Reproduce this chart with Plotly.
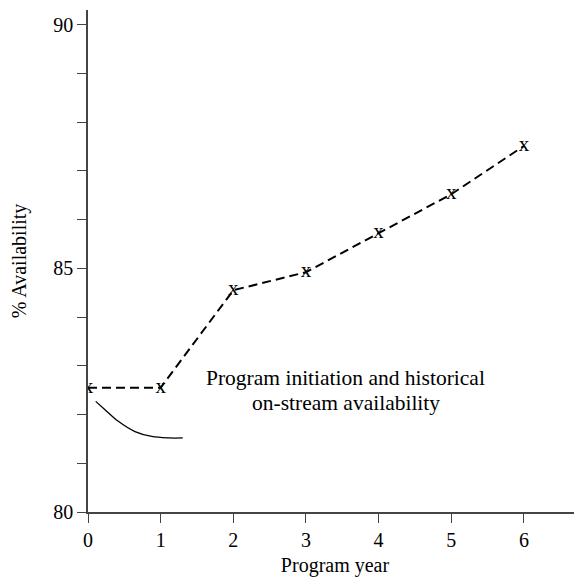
import plotly.graph_objects as go

years = [0, 1, 2, 3, 4, 5, 6]
availability = [82.55, 82.55, 84.55, 84.92, 85.72, 86.52, 87.51]

curve_x = [0.106, 0.234, 0.417, 0.647, 0.877, 1.106, 1.304]
curve_y = [82.27, 82.10, 81.86, 81.65, 81.55, 81.52, 81.52]

y_tickvals = [80, 81, 82, 83, 84, 85, 86, 87, 88, 89, 90]
y_ticktext = ["80", "", "", "", "", "85", "", "", "", "", "90"]
x_tickvals = [0, 1, 2, 3, 4, 5, 6]

annotation_lines = ["Program initiation and historical", "on-stream availability"]
annotation_x = 3.55
annotation_y = [82.75, 82.24]

font_family = "Liberation Serif, DejaVu Serif, serif"

fig = go.Figure()
fig.add_trace(go.Scatter(
    x=years, y=availability, mode="lines",
    line=dict(color="black", width=2, dash="9px,5px"),
    hoverinfo="skip", showlegend=False,
))
fig.add_trace(go.Scatter(
    x=years, y=availability, mode="text",
    text=["x"] * len(years), textposition="middle center",
    textfont=dict(family=font_family, size=21, color="black"),
    showlegend=False,
))
fig.add_trace(go.Scatter(
    x=curve_x, y=curve_y, mode="lines", line_shape="spline",
    line=dict(color="black", width=1.3, smoothing=1.0),
    showlegend=False,
))

for line_text, yy in zip(annotation_lines, annotation_y):
    fig.add_annotation(
        x=annotation_x, y=yy, text=line_text, showarrow=False,
        font=dict(family=font_family, size=21.5, color="black"),
        xanchor="center", yanchor="middle",
    )

fig.update_layout(
    width=574, height=572,
    margin=dict(l=80, r=0, t=2, b=68),
    plot_bgcolor="white", paper_bgcolor="white",
    font=dict(family=font_family, size=20, color="black"),
    xaxis=dict(
        range=[0, 6.8], tickvals=x_tickvals, ticks="outside", ticklen=9,
        tickwidth=1.3, tickcolor="#444", showline=True, linecolor="#444",
        linewidth=1.5, showgrid=False, zeroline=False,
        title=dict(text="Program year", font=dict(size=20), standoff=8),
        tickfont=dict(size=20),
    ),
    yaxis=dict(
        range=[80, 90.3], tickvals=y_tickvals, ticktext=y_ticktext,
        ticks="outside", ticklen=9, tickwidth=1.3, tickcolor="#444",
        showline=True, linecolor="#444", linewidth=1.5, showgrid=False,
        zeroline=False,
        title=dict(text="% Availability", font=dict(size=20), standoff=30),
        tickfont=dict(size=20),
    ),
)

fig.write_html("out.html")
